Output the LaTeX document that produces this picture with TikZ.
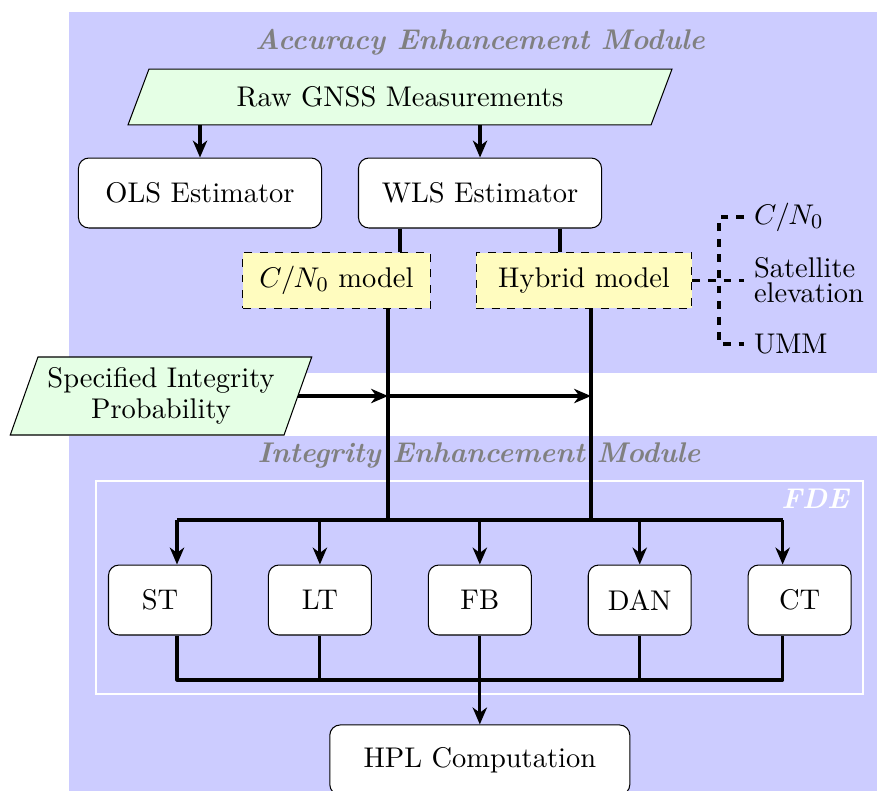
\documentclass[11pt,tikz,border=0pt]{standalone}
\usetikzlibrary{shapes.geometric, arrows.meta, positioning, calc}

\begin{document}
\begin{tikzpicture}[
        x=0.3846pt, y=-0.3846pt,
        node distance=61.5pt,
        block/.style={rectangle, draw, fill=white, text centered, rounded corners=4pt, minimum width=93.5pt, minimum height=26.9pt},
        small/.style={block, minimum width=39.6pt},
        model/.style={rectangle, draw, dashed, fill=yellow!25, text centered, minimum height=21.5pt},
        io/.style={trapezium, trapezium left angle=70, trapezium right angle=110, trapezium stretches=true, draw, fill=green!10, text centered},
        title/.style={font=\bfseries\itshape, text=gray},
        line/.style={draw, -{Stealth[length=6.5pt, width=5.5pt, inset=2pt]}, very thick},
        link/.style={draw, very thick, line join=round},
        note/.style={draw, dashed, very thick}
    ]
        \useasboundingbox (0,0) rectangle (877,790);
        \fill [blue!20] (69,12) rectangle (877,373);
        \fill [blue!20] (69,436) rectangle (877,800);
        \draw [white, thick] (96,481) rectangle (863,694);

        \node [title] (acc) at (480,42) {Accuracy Enhancement Module};
        \node [title] (integ) at (479,455) {Integrity Enhancement Module};
        \node [title, text=white] (fde) at (815,499) {FDE};

        \node [io, minimum width=209.6pt, minimum height=21.5pt] (raw) at (400,97) {Raw GNSS Measurements};
        \node [block] (ols) at (200,193) {OLS Estimator};
        \node [block, right of=ols, node distance=107.7pt] (wls) {WLS Estimator};
        \node [model, minimum width=72pt] (cn0) at (336.5,280.5) {$C/N_0$ model};
        \node [model, minimum width=83pt, right of=cn0, node distance=95.2pt] (hyb) {Hybrid model};
        \node [io, align=center, minimum width=115pt, minimum height=30pt] (spec) at (161,396) {Specified Integrity\\[-1.6pt]Probability};

        \node [right] (cnlab) at (744,217) {$C/N_0$};
        \node [right, align=left] (elev) at (744,280.5) {Satellite\\[-4pt]elevation};
        \node [right] (umm) at (744,344) {UMM};

        \node [small] (st) at (160,600) {ST};
        \node [small, right of=st] (lt) {LT};
        \node [small, right of=lt] (fb) {FB};
        \node [small, right of=fb] (dan) {DAN};
        \node [small, right of=dan] (ct) {CT};
        \node [block, below of=fb, minimum width=115.4pt] (hpl) {HPL Computation};

        \coordinate (wl) at ($(wls.south)+(-80,0)$);
        \coordinate (wr) at ($(wls.south)+(80,0)$);
        \coordinate (cd) at ($(cn0.south)+(51.5,0)$);
        \coordinate (hd) at ($(hyb.south)+(7,0)$);
        \coordinate (top) at (0,520);
        \coordinate (bot) at (0,680);
        \coordinate (sta) at ($(st.north)+(17,0)$);
        \coordinate (stb) at ($(st.south)+(17,0)$);
        \coordinate (cta) at ($(ct.north)+(-17,0)$);
        \coordinate (ctb) at ($(ct.south)+(-17,0)$);

        \path [line] (ols.north |- raw.south) -- (ols.north);
        \path [line] (wls.north |- raw.south) -- (wls.north);
        \path [link] (wl) -- (wl |- cn0.north);
        \path [link] (wr) -- (wr |- hyb.north);
        \path [note] (hyb.east) -- (elev.west);
        \path [note] (cnlab.west) -- ++(-25,0) |- (umm.west);

        \path [link] (cd) -- (cd |- top);
        \path [link] (hd) -- (hd |- top);
        \path [line] (spec.east) -- (cd |- spec.east);
        \path [line] (cd |- spec.east) -- (hd |- spec.east);

        \path [link] (sta |- top) -- (cta |- top);
        \path [line] (sta |- top) -- (sta);
        \path [line] (lt.north |- top) -- (lt.north);
        \path [line] (fb.north |- top) -- (fb.north);
        \path [line] (dan.north |- top) -- (dan.north);
        \path [line] (cta |- top) -- (cta);

        \path [link] (stb) -- (stb |- bot) -- (ctb |- bot) -- (ctb);
        \path [link] (lt.south) -- (lt.south |- bot);
        \path [link] (dan.south) -- (dan.south |- bot);
        \path [line] (fb.south) -- (hpl.north);
    \end{tikzpicture}
\end{document}
